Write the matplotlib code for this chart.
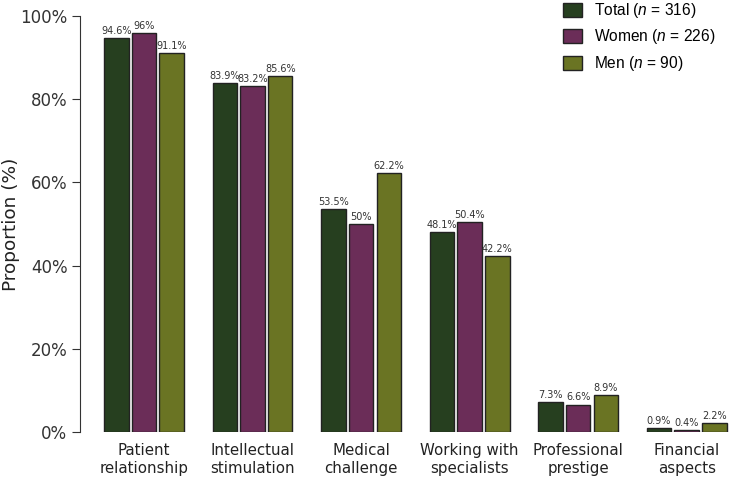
import matplotlib
matplotlib.use("Agg")
import matplotlib.pyplot as plt
import numpy as np

plt.rcParams["font.family"] = ["DejaVu Sans"]
plt.rcParams["mathtext.fontset"] = "custom"
plt.rcParams["mathtext.rm"] = "Liberation Sans"
plt.rcParams["mathtext.it"] = "Liberation Sans:italic"

categories = ["Patient\nrelationship", "Intellectual\nstimulation", "Medical\nchallenge",
              "Working with\nspecialists", "Professional\nprestige", "Financial\naspects"]
total = [94.6, 83.9, 53.5, 48.1, 7.3, 0.9]
women = [96, 83.2, 50, 50.4, 6.6, 0.4]
men = [91.1, 85.6, 62.2, 42.2, 8.9, 2.2]
series_labels = ["Total ($\\it{n}$ = 316)", "Women ($\\it{n}$ = 226)", "Men ($\\it{n}$ = 90)"]
colors = ["#263f1f", "#6b2d58", "#6a7423"]

fig = plt.figure(figsize=(7.29, 4.82), dpi=100)
ax = fig.add_axes([80 / 729, 50 / 482, 649 / 729, 416 / 482])

ind = np.arange(len(categories))
width = 0.225
gap = 0.03
rects = []
for i, (vals, c) in enumerate(zip([total, women, men], colors)):
    r = ax.bar(ind + (i - 1) * (width + gap), vals, width, color=c,
               edgecolor="#222222", linewidth=1.0)
    rects.append(r)
    for rect, v in zip(r, vals):
        ax.text(rect.get_x() + rect.get_width() / 2., v + 0.5, "%g%%" % v,
                ha="center", va="bottom", fontsize=7, color="#333333")

ax.set_xlim(-0.59, 5.39)
ax.set_ylim(0, 100)
ax.set_yticks(np.arange(0, 101, 20))
ax.set_yticklabels(["%d%%" % t for t in range(0, 101, 20)], fontsize=12, color="#333333")
ax.set_xticks(ind)
ax.set_xticklabels(categories, fontsize=10.8, color="#222222", linespacing=1.25)
ax.tick_params(axis="x", length=0, pad=8)
ax.tick_params(axis="y", length=6, pad=3, color="#333333")
ax.set_ylabel("Proportion (%)", fontsize=13.3, color="#222222")
ax.yaxis.set_label_coords(-0.093, 0.5)
for s in ["top", "right", "bottom"]:
    ax.spines[s].set_visible(False)
ax.spines["left"].set_color("#333333")

leg = ax.legend([r[0] for r in rects], series_labels, loc="upper left",
                bbox_to_anchor=(471 / 649, 1.066), frameon=False,
                prop={"family": "Liberation Sans", "size": 11.2},
                handlelength=1.22, handleheight=1.0, handletextpad=0.75,
                labelspacing=0.48, borderpad=0.3)

fig.savefig("out.png", dpi=100)
